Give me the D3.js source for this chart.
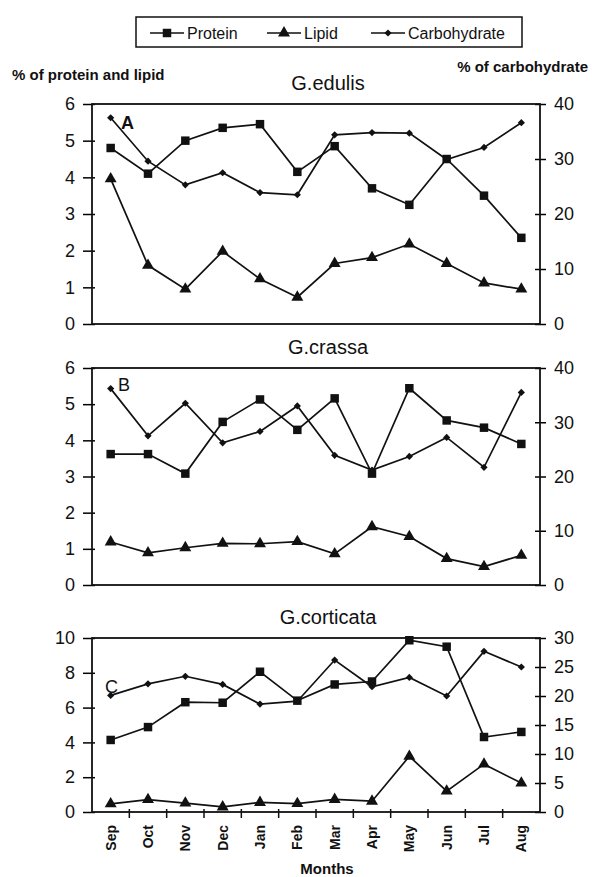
<!DOCTYPE html>
<html>
<head>
<meta charset="utf-8">
<style>
  body { margin: 0; background: #fff; }
  svg { display: block; font-family: "Liberation Sans", Arial, sans-serif; }
</style>
</head>
<body>
<div id="chart"></div>

<script src="https://cdnjs.cloudflare.com/ajax/libs/d3/7.8.5/d3.min.js"></script>
<script>
  // Months on the x axis
  const months = ["Sep", "Oct", "Nov", "Dec", "Jan", "Feb", "Mar", "Apr", "May", "Jun", "Jul", "Aug"];

  // G.edulis (A) - protein and lipid on left axis, carbohydrate on right axis
  const edulisProtein = [4.8, 4.1, 5.0, 5.35, 5.45, 4.15, 4.85, 3.7, 3.25, 4.5, 3.5, 2.35];
  const edulisLipid = [3.96, 1.6, 0.95, 1.98, 1.23, 0.73, 1.65, 1.81, 2.18, 1.65, 1.12, 0.95];
  const edulisCarb = [37.5, 29.6, 25.3, 27.5, 23.9, 23.5, 34.4, 34.8, 34.7, 29.9, 32.1, 36.6];

  // G.crassa (B)
  const crassaProtein = [3.62, 3.62, 3.08, 4.51, 5.13, 4.29, 5.16, 3.08, 5.44, 4.55, 4.35, 3.9];
  const crassaLipid = [1.19, 0.89, 1.03, 1.15, 1.14, 1.2, 0.86, 1.61, 1.34, 0.73, 0.51, 0.82];
  const crassaCarb = [36.2, 27.5, 33.5, 26.2, 28.3, 33.0, 23.9, 21.2, 23.7, 27.2, 21.7, 35.5];

  // G.corticata (C)
  const corticataProtein = [4.14, 4.88, 6.31, 6.28, 8.06, 6.4, 7.33, 7.5, 9.87, 9.5, 4.31, 4.6];
  const corticataLipid = [0.47, 0.71, 0.51, 0.29, 0.55, 0.48, 0.72, 0.62, 3.2, 1.2, 2.75, 1.66];
  const corticataCarb = [20.1, 22.1, 23.4, 22.0, 18.6, 19.1, 26.2, 21.6, 23.2, 20.0, 27.7, 25.0];

  // Tick values for the two kinds of panels
  const leftTicks6 = [0, 1, 2, 3, 4, 5, 6];
  const rightTicks40 = [0, 10, 20, 30, 40];
  const leftTicks10 = [0, 2, 4, 6, 8, 10];
  const rightTicks30 = [0, 5, 10, 15, 20, 25, 30];

  const width = 592;
  const height = 877;
  const left = 92, right = 540;

  const svg = d3.create("svg")
    .attr("width", width)
    .attr("height", height)
    .attr("viewBox", [0, 0, width, height]);

  svg.append("rect").attr("width", width).attr("height", height).attr("fill", "#fff");

  // shared x scale (one band per month, ticks sit between months)
  const x = d3.scaleBand().domain(months).range([left, right]);
  const cx = m => x(m) + x.bandwidth() / 2;

  // marker shapes: filled square, triangle, small diamond (rotated square)
  const symbols = {
    protein: d3.symbol(d3.symbolSquare, 72)(),
    lipid: d3.symbol(d3.symbolTriangle, 62)(),
    carb: d3.symbol(d3.symbolSquare, 26)()
  };
  const rot = {protein: 0, lipid: 0, carb: 45};

  function drawSeries(g, values, y, kind) {
    const pts = months.map((m, i) => [cx(m), y(values[i])]);
    g.append("path")
      .attr("d", d3.line()(pts))
      .attr("fill", "none")
      .attr("stroke", "#111")
      .attr("stroke-width", 1.7);
    g.selectAll(null)
      .data(pts)
      .join("path")
      .attr("transform", d => `translate(${d[0]},${d[1]}) rotate(${rot[kind]})`)
      .attr("d", symbols[kind])
      .attr("fill", "#111");
  }

  function drawPanel(p) {
    const g = svg.append("g");
    const yL = d3.scaleLinear().domain([0, p.leftMax]).range([p.bottom, p.top]);
    const yR = d3.scaleLinear().domain([0, p.rightMax]).range([p.bottom, p.top]);

    // left axis, ticks crossing the frame a little
    g.append("g")
      .attr("transform", `translate(${left},0)`)
      .call(d3.axisLeft(yL).tickValues(p.leftTicks).tickFormat(d3.format("d")).tickSize(9).tickPadding(8))
      .call(a => a.select(".domain").remove())
      .call(a => a.selectAll(".tick line").attr("x1", 3).attr("stroke-width", 1.5))
      .call(a => a.selectAll("text").attr("font-size", 18).attr("fill", "#111"));

    // right axis (carbohydrate)
    g.append("g")
      .attr("transform", `translate(${right},0)`)
      .call(d3.axisRight(yR).tickValues(p.rightTicks).tickFormat(d3.format("d")).tickSize(6).tickPadding(8))
      .call(a => a.select(".domain").remove())
      .call(a => a.selectAll(".tick line").attr("x1", -5).attr("stroke-width", 1.5))
      .call(a => a.selectAll("text").attr("font-size", 18).attr("fill", "#111"));

    // frame
    g.append("rect")
      .attr("x", left).attr("y", p.top)
      .attr("width", right - left).attr("height", p.bottom - p.top)
      .attr("fill", "none").attr("stroke", "#111").attr("stroke-width", 1.8);

    // title
    g.append("text")
      .attr("x", 328).attr("y", p.top - 14)
      .attr("text-anchor", "middle")
      .attr("font-size", 20)
      .attr("fill", "#111")
      .text(p.title);

    drawSeries(g, p.protein, yL, "protein");
    drawSeries(g, p.lipid, yL, "lipid");
    drawSeries(g, p.carb, yR, "carb");

    // panel letter
    g.append("text")
      .attr("x", p.labelX).attr("y", p.labelY)
      .attr("font-size", 18)
      .attr("font-weight", p.labelBold ? "bold" : "normal")
      .attr("fill", "#111")
      .text(p.label);

    if (p.showX) {
      const xa = g.append("g")
        .attr("transform", `translate(0,${p.bottom})`);
      // tick marks between the months
      xa.selectAll("line")
        .data(d3.range(1, months.length))
        .join("line")
        .attr("x1", i => left + i * x.step())
        .attr("x2", i => left + i * x.step())
        .attr("y1", -3).attr("y2", 6)
        .attr("stroke", "#111").attr("stroke-width", 1.5);
      xa.selectAll("text")
        .data(months)
        .join("text")
        .attr("transform", m => `translate(${cx(m)},13) rotate(-90)`)
        .attr("text-anchor", "end")
        .attr("dy", "0.35em")
        .attr("font-size", 14)
        .attr("font-weight", "bold")
        .attr("fill", "#111")
        .text(m => m);
    }
  }

  drawPanel({
    title: "G.edulis", label: "A", labelX: 121, labelY: 129, labelBold: true,
    top: 104, bottom: 324, leftMax: 6, rightMax: 40,
    leftTicks: leftTicks6, rightTicks: rightTicks40,
    protein: edulisProtein, lipid: edulisLipid, carb: edulisCarb
  });

  drawPanel({
    title: "G.crassa", label: "B", labelX: 118, labelY: 391,
    top: 368, bottom: 585, leftMax: 6, rightMax: 40,
    leftTicks: leftTicks6, rightTicks: rightTicks40,
    protein: crassaProtein, lipid: crassaLipid, carb: crassaCarb
  });

  drawPanel({
    title: "G.corticata", label: "C", labelX: 105, labelY: 693,
    top: 638, bottom: 812, leftMax: 10, rightMax: 30,
    leftTicks: leftTicks10, rightTicks: rightTicks30,
    protein: corticataProtein, lipid: corticataLipid, carb: corticataCarb,
    showX: true
  });

  // axis titles
  svg.append("text")
    .attr("x", 12).attr("y", 80)
    .attr("font-size", 15).attr("font-weight", "bold").attr("fill", "#111")
    .text("% of protein and lipid");

  svg.append("text")
    .attr("x", 588).attr("y", 72)
    .attr("text-anchor", "end")
    .attr("font-size", 15).attr("font-weight", "bold").attr("fill", "#111")
    .text("% of carbohydrate");

  svg.append("text")
    .attr("x", 327).attr("y", 874)
    .attr("text-anchor", "middle")
    .attr("font-size", 15).attr("font-weight", "bold").attr("fill", "#111")
    .text("Months");

  // legend
  const legend = svg.append("g");
  legend.append("rect")
    .attr("x", 136).attr("y", 17)
    .attr("width", 386).attr("height", 30)
    .attr("fill", "none").attr("stroke", "#111").attr("stroke-width", 1.5);

  const legendItems = [
    {kind: "protein", name: "Protein", x: 150},
    {kind: "lipid", name: "Lipid", x: 267},
    {kind: "carb", name: "Carbohydrate", x: 371}
  ];
  const li = legend.selectAll("g")
    .data(legendItems)
    .join("g")
    .attr("transform", d => `translate(${d.x},33)`);
  li.append("line")
    .attr("x1", 0).attr("x2", 34)
    .attr("stroke", "#111").attr("stroke-width", 1.7);
  li.append("path")
    .attr("transform", d => `translate(17,0) rotate(${rot[d.kind]})`)
    .attr("d", d => symbols[d.kind])
    .attr("fill", "#111");
  li.append("text")
    .attr("x", 37).attr("dy", "0.35em")
    .attr("font-size", 16).attr("fill", "#111")
    .text(d => d.name);

  d3.select("#chart").node().appendChild(svg.node());
</script>
</body>
</html>
